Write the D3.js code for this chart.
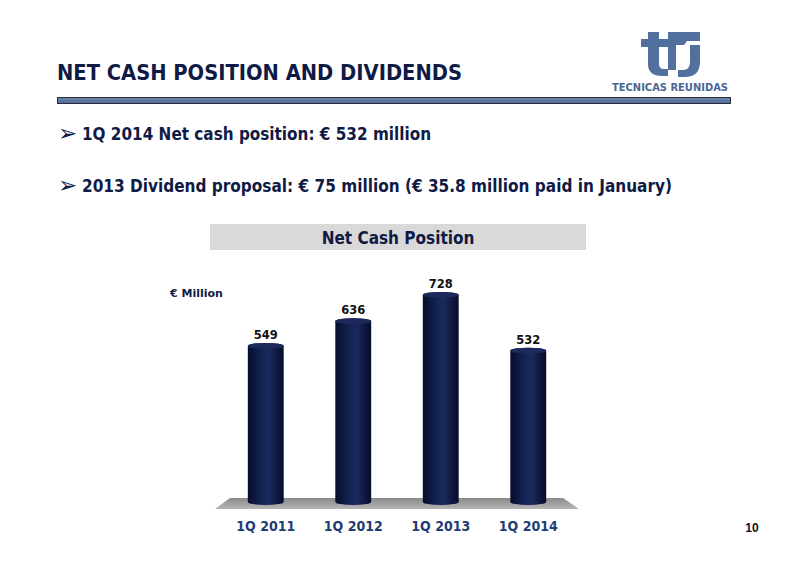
<!DOCTYPE html>
<html><head><meta charset="utf-8">
<script src="https://cdn.jsdelivr.net/npm/d3@7"></script>
<style>body{margin:0;background:#fff}svg{display:block}</style>
</head><body>
<svg id="c" width="800" height="565"></svg>
<script>
const categories = ["1Q 2011", "1Q 2012", "1Q 2013", "1Q 2014"];
const values = [549, 636, 728, 532];
const valueLabels = ["549", "636", "728", "532"];
const pageTitle = "NET CASH POSITION AND DIVIDENDS";
const bullets = ["1Q 2014 Net cash position: € 532 million",
                 "2013 Dividend proposal: € 75 million (€ 35.8 million paid in January)"];
const chartTitle = "Net Cash Position";
const unitLabel = "€ Million";

const svg = d3.select("#c");
const navy = "#0f1a45";
const cond = "'DejaVu Sans Condensed','DejaVu Sans',sans-serif";
const wide = "'DejaVu Sans',Verdana,sans-serif";

// gradients
const defs = svg.append("defs");
const g1 = defs.append("linearGradient").attr("id","cyl").attr("x1","0").attr("x2","1").attr("y1","0").attr("y2","0");
[[0,"#060d2b"],[0.45,"#17265a"],[0.6,"#1a295c"],[1,"#060c29"]].forEach(s=>g1.append("stop").attr("offset",s[0]).attr("stop-color",s[1]));
const g2 = defs.append("linearGradient").attr("id","floor").attr("x1","0").attr("x2","0").attr("y1","0").attr("y2","1");
[[0,"#8a8a8a"],[1,"#b5b5b5"]].forEach(s=>g2.append("stop").attr("offset",s[0]).attr("stop-color",s[1]));
const g3 = defs.append("linearGradient").attr("id","band").attr("x1","0").attr("x2","0").attr("y1","0").attr("y2","1");
[[0,"#7088ad"],[1,"#4e6891"]].forEach(s=>g3.append("stop").attr("offset",s[0]).attr("stop-color",s[1]));

// page title
svg.append("text").attr("x",57).attr("y",80).attr("fill",navy)
  .attr("font-family",cond).attr("font-weight","bold").attr("font-size",22)
  .attr("textLength",405).attr("lengthAdjust","spacingAndGlyphs").text(pageTitle);
// band
svg.append("rect").attr("x",57.5).attr("y",97.5).attr("width",673).attr("height",6)
  .attr("fill","url(#band)").attr("stroke","#2a2f3a").attr("stroke-width",1);

// logo
const logo = svg.append("g").attr("fill","#52709d");
logo.append("path").attr("d","M648,32 H659 V39 H668 V47 H659 V64 Q659,69 664,69 H668 V76 H662 Q648,76 648,64 V47 H641 V39 H648 Z");
logo.append("path").attr("d","M668,32 H700 V41 H687 L684,45 H676 V70 H668 Z");
logo.append("path").attr("d","M690,45 H700 V62 Q700,76 686,77 H678 V70 H684 Q690,69 690,62 Z");
svg.append("text").attr("x",670).attr("y",91).attr("text-anchor","middle").attr("fill","#4a6694")
  .attr("font-family","'Liberation Sans Narrow','DejaVu Sans Condensed',sans-serif").attr("font-weight","bold").attr("font-size",11)
  .attr("textLength",116).attr("lengthAdjust","spacingAndGlyphs").text("TECNICAS REUNIDAS");

// bullets
const bl = [[140,349],[192,590]];
bullets.forEach((b,i)=>{
  svg.append("text").attr("x",58).attr("y",bl[i][0]+1).attr("fill",navy)
    .attr("font-family",wide).attr("font-size",23).text("➢");
  svg.append("text").attr("x",82).attr("y",bl[i][0]).attr("fill",navy)
    .attr("font-family",cond).attr("font-weight","bold").attr("font-size",18)
    .attr("textLength",bl[i][1]).attr("lengthAdjust","spacingAndGlyphs").text(b);
});

// chart title box
svg.append("rect").attr("x",210).attr("y",224).attr("width",376).attr("height",26).attr("fill","#d9d9d9");
svg.append("text").attr("x",398).attr("y",244).attr("text-anchor","middle").attr("fill",navy)
  .attr("font-family",cond).attr("font-weight","bold").attr("font-size",17).text(chartTitle);

svg.append("text").attr("x",170).attr("y",297).attr("fill",navy)
  .attr("font-family",wide).attr("font-weight","bold").attr("font-size",11).text(unitLabel);

// scales
const x = d3.scaleBand().domain(categories).range([222,572]).paddingInner(0.59).paddingOuter(0.295);
const y = d3.scaleLinear().domain([0,800]).range([502,502-227.5]);

// floor
svg.append("path").attr("d","M230,498 H563 L579,509 H215 Z").attr("fill","url(#floor)");

const bw = x.bandwidth(), ry = 3;
const bars = svg.append("g").selectAll("g").data(values).join("g");
bars.append("path").attr("d",(d,i)=>{
  const x0 = x(categories[i]), x1 = x0+bw, yt = y(d), yb = y(0);
  return `M${x0},${yt} V${yb} A${bw/2},${ry} 0 0 0 ${x1},${yb} V${yt} A${bw/2},${ry} 0 0 0 ${x0},${yt} Z`;
}).attr("fill","url(#cyl)");
bars.append("ellipse").attr("cx",(d,i)=>x(categories[i])+bw/2).attr("cy",d=>y(d))
  .attr("rx",bw/2).attr("ry",ry).attr("fill","#1b2a5a");
bars.append("text").attr("x",(d,i)=>x(categories[i])+bw/2).attr("y",d=>y(d)-7)
  .attr("text-anchor","middle").attr("fill","#111").attr("font-family",wide)
  .attr("font-weight","bold").attr("font-size",11.5).text((d,i)=>valueLabels[i]);

// x axis labels
const ax = svg.append("g").attr("transform","translate(0,509)")
  .call(d3.axisBottom(x).tickSize(0).tickPadding(12));
ax.select(".domain").remove();
ax.selectAll("text").attr("fill","#1f3c74").attr("font-family",cond)
  .attr("font-weight","bold").attr("font-size",14);

// page number
svg.append("text").attr("x",752).attr("y",532).attr("text-anchor","middle").attr("fill","#111")
  .attr("font-family","'Liberation Sans',Arial,sans-serif").attr("font-weight","bold").attr("font-size",12).text("10");
</script>
</body></html>
